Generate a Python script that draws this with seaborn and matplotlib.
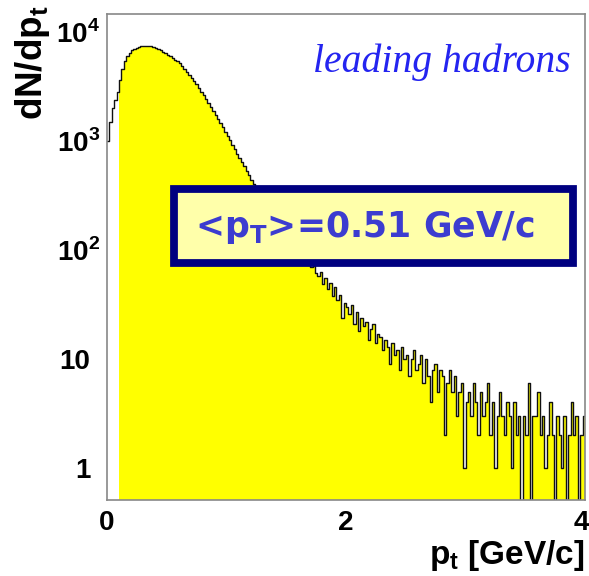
import numpy as np
import pandas as pd
import matplotlib
matplotlib.use("Agg")
import matplotlib.pyplot as plt
import seaborn as sns
from matplotlib.patches import Rectangle
from matplotlib.ticker import LogLocator, NullFormatter
from matplotlib.transforms import ScaledTranslation

# Leading-hadron transverse momentum spectrum, 0.02 GeV/c bins from 0 to 4 GeV/c
pt_range = (0.0, 4.0)
n_bins = 200
fill_from = 0.10  # first bins drawn as outline only

counts = [
    # 0.00 - 0.10
    1000, 1500, 2000, 2400, 2800,
    # 0.10 - 0.36
    3630, 4570, 5370, 6030, 6460, 6760, 7000, 7160, 7280, 7360, 7410, 7450, 7450,
    # 0.36 - 1.00
    7430, 7350, 7190, 7010, 6820, 6610, 6400, 6190, 6000, 5790,
    5580, 5370, 5150, 4880, 4600, 4330, 4060, 3790, 3540, 3300,
    3060, 2840, 2620, 2420, 2230, 2060, 1890, 1740, 1600, 1460,
    1340, 1220,
    # 1.00 - 1.24
    1110, 1030, 915, 850, 765, 705, 635, 585, 525, 490, 436, 405,
    # 1.24 - 1.76
    368, 334, 315, 281, 266, 238, 229, 204, 198, 176,
    171, 150, 149, 131, 129, 114, 115, 101, 100, 89,
    90, 79, 78, 70, 71, 62,
    # 1.76 - 3.00
    58, 63, 49, 55, 44, 50, 38, 46, 35, 39,
    24, 33, 30, 26, 31, 21, 27, 18, 24, 20,
    22, 15, 19, 21, 14, 17, 16, 12, 15, 13,
    9, 14, 11, 12, 8, 13, 10, 11, 7, 10,
    12, 8, 9, 11, 6, 10, 7, 4, 8, 9,
    5, 8, 7, 2, 6, 8, 5, 7, 3, 5,
    6, 1,
    # 3.00 - 4.00
    4, 5, 3, 6, 4, 2, 5, 3, 4, 6,
    2, 4, 1, 3, 5, 3, 2, 4, 3, 1,
    4, 2, 3, 0, 3, 2, 6, 0, 3, 3,
    5, 2, 3, 1, 2, 4, 2, 0, 3, 2,
    1, 3, 0, 2, 4, 2, 3, 0, 2, 3,
]
assert len(counts) == n_bins

y_ticks = [1, 10, 100, 1000, 10000]
y_tick_labels = ["1", "10", r"10$^{\mathregular{2}}$", r"10$^{\mathregular{3}}$", r"10$^{\mathregular{4}}$"]
x_ticks = [0, 2, 4]
x_tick_labels = ["0", "2", "4"]

annotation = r"<p$_{\mathregular{T}}$>=0.51 GeV/c"
title_text = "leading hadrons"

sns.set_theme(style="white")
plt.rcParams["font.family"] = ["Liberation Sans", "DejaVu Sans"]
plt.rcParams["font.weight"] = "bold"
plt.rcParams["mathtext.fontset"] = "custom"
plt.rcParams["mathtext.rm"] = "Liberation Sans"
plt.rcParams["mathtext.bf"] = "Liberation Sans:bold"
plt.rcParams["axes.labelcolor"] = "black"
plt.rcParams["text.color"] = "black"

edges = np.linspace(pt_range[0], pt_range[1], n_bins + 1)
centers = 0.5 * (edges[:-1] + edges[1:])
df = pd.DataFrame({"pt": centers, "count": counts})

fig = plt.figure(figsize=(5.89, 5.76), dpi=100)
ax = fig.add_axes([107 / 589, 1 - 500 / 576, 478 / 589, 486 / 576])

filled = df[df["pt"] > fill_from]
fill_edges = [float(e) for e in edges if e >= fill_from - 1e-9]
all_edges = [float(e) for e in edges]
sns.histplot(data=filled, x="pt", weights="count", bins=fill_edges,
             element="step", fill=True, color="#FFFF00", alpha=1, linewidth=0, ax=ax)
sns.histplot(data=df, x="pt", weights="count", bins=all_edges,
             element="step", fill=False, color="#111111", linewidth=1.0, ax=ax)

ax.set_yscale("log")
ax.set_xlim(*pt_range)
ax.set_ylim(0.51, 14600)

ax.set_yticks(y_ticks)
ax.set_yticklabels(y_tick_labels)
ax.yaxis.set_minor_locator(LogLocator(base=10, subs=np.arange(2, 10), numticks=30))
ax.yaxis.set_minor_formatter(NullFormatter())
ax.set_xticks(x_ticks)
ax.set_xticklabels(x_tick_labels)
ax.tick_params(axis="both", which="major", direction="in", length=14, width=1.0,
               color="#444444", labelsize=20, labelcolor="black")
ax.tick_params(axis="y", which="major", pad=12)
ax.tick_params(axis="x", which="major", pad=7)
ax.tick_params(axis="y", which="minor", direction="in", length=6, width=0.9, color="#444444")
ax.tick_params(axis="x", which="minor", bottom=False)
ax.tick_params(top=False, right=False)
for side in ["left", "right", "top", "bottom"]:
    ax.spines[side].set_visible(True)
    ax.spines[side].set_color("#888888")
    ax.spines[side].set_linewidth(1.2)
ax.set_axisbelow(False)

# powers of ten: keep the mantissa aligned with the plain labels, exponent sticks out
for lbl in ax.get_yticklabels():
    if "$" in lbl.get_text():
        lbl.set_transform(lbl.get_transform() + ScaledTranslation(0.10, 0, fig.dpi_scale_trans))
xlabels = ax.get_xticklabels()
xlabels[-1].set_horizontalalignment("right")
xlabels[-1].set_transform(xlabels[-1].get_transform() + ScaledTranslation(0.04, 0, fig.dpi_scale_trans))

ax.set_ylabel(r"dN/dp$_{\mathregular{t}}$", fontsize=26.5, fontweight="bold", loc="top", color="black")
ax.yaxis.set_label_coords(-0.115, 1.018)
ax.set_xlabel(r"p$_{\mathregular{t}}$ [GeV/c]", fontsize=24, fontweight="bold", loc="right", color="black")
ax.xaxis.set_label_coords(1.0, -0.078)

ax.text(0.969, 0.881, title_text, transform=ax.transAxes, ha="right", va="baseline",
        fontsize=28.5, fontstyle="italic", fontweight="normal",
        family=["Liberation Serif"], color="#2424F0")

box = Rectangle((0.140, 0.488), 0.835, 0.152, transform=ax.transAxes,
                facecolor="#FFFFAA", edgecolor="#000080", linewidth=5.6,
                zorder=5, clip_on=False)
ax.add_patch(box)
ax.text(0.540, 0.561, annotation, transform=ax.transAxes, ha="center", va="center",
        fontsize=25, fontweight="bold", family=["DejaVu Sans"], color="#3C3CD0", zorder=6)

fig.savefig("out.png", dpi=100, facecolor="white")
